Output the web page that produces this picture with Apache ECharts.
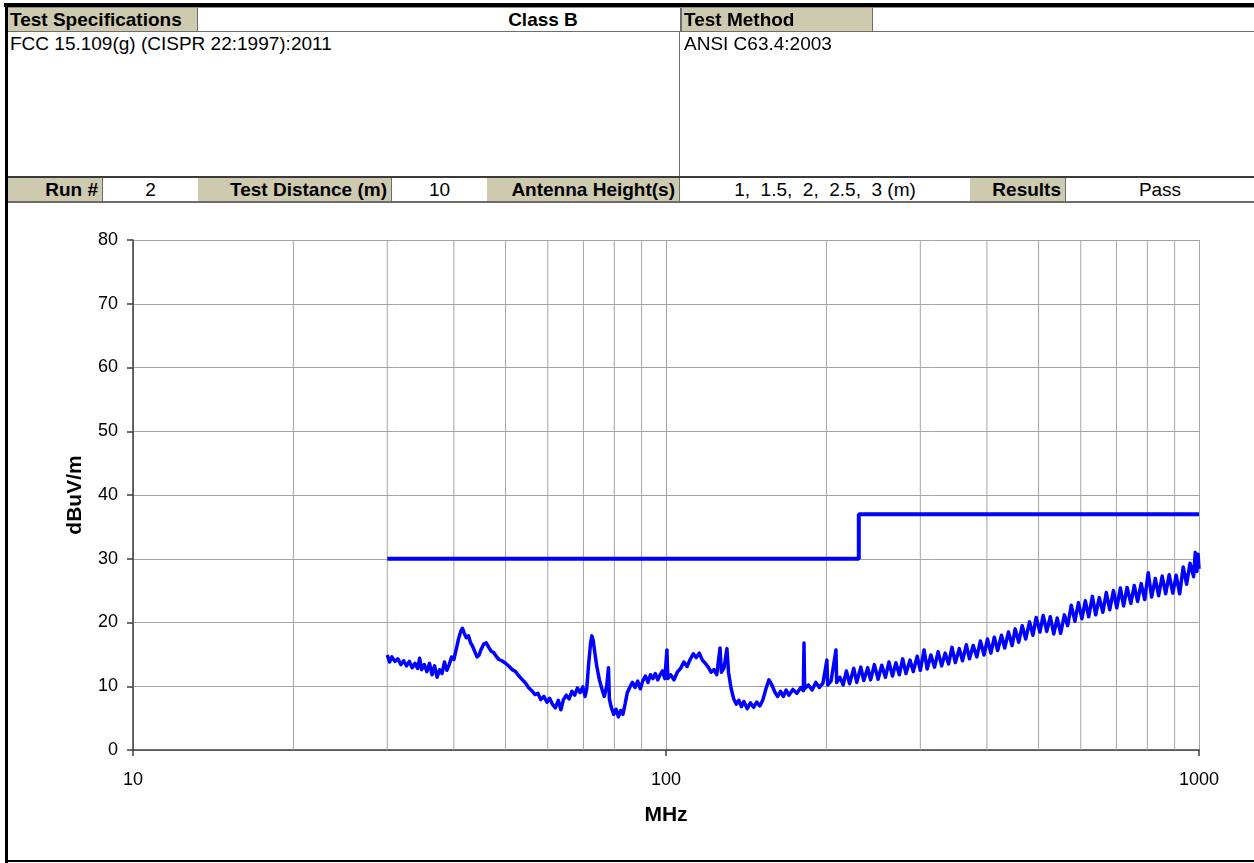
<!DOCTYPE html>
<html>
<head>
<meta charset="utf-8">
<script src="https://cdn.jsdelivr.net/npm/echarts@6/dist/echarts.min.js"></script>
<style>
  html, body { margin:0; padding:0; background:#fff; width:1254px; height:863px; overflow:hidden; }
  body { position:relative; font-family:"Liberation Sans", Arial, sans-serif; }
  #chart { position:absolute; left:0; top:0; width:1254px; height:863px; }
  .box { position:absolute; box-sizing:border-box; }
  .cell { position:absolute; box-sizing:border-box; font-size:19px; white-space:pre; color:#000; padding:0 4px; overflow:hidden; }
  .tan { background:#cdcaaf; font-weight:bold; border-right:1.5px solid #6d6d6d; }
  .white { background:#fff; }
</style>
</head>
<body>
<div id="chart"></div>
<div id="hdr"></div>
<script>
// ---- header texts ----
const specLabel = "Test Specifications";
const specClass = "Class B";
const methodLabel = "Test Method";
const specText = "FCC 15.109(g) (CISPR 22:1997):2011";
const methodText = "ANSI C63.4:2003";
const runLabels = ["Run #", "Test Distance (m)", "Antenna Height(s)", "Results"];
const runValues = ["2", "10", "1,  1.5,  2,  2.5,  3 (m)", "Pass"];

// ---- chart data ----
const xAxisName = "MHz";
const yAxisName = "dBuV/m";
const minorGridFreq = [20,30,40,50,60,70,80,90,200,300,400,500,600,700,800,900];
const limitLine = [[30,30],[230,30],[230,37],[1000,37]];
const measuredTrace = [
[30,14.9],[30.3,13.8],[30.6,14.6],[31,13.9],[31.4,14.3],[31.8,13.4],[32.2,14.0],[32.6,13.2],[33,13.9],[33.4,12.9],[33.8,13.6],[34.2,12.8],[34.5,14.4],[34.8,12.6],[35.2,13.4],[35.6,12.3],[36,13.6],[36.4,11.8],[36.8,13.2],[37.2,11.4],[37.6,12.6],[38,12.0],[38.4,13.8],[38.8,12.5],[39.2,13.4],[39.6,14.6],[40,14.2],[40.4,15.8],[40.8,17.4],[41.2,18.6],[41.5,19.1],[41.8,18.4],[42.2,17.6],[42.6,17.9],[43,16.8],[43.4,16.2],[43.8,15.4],[44.2,14.6],[44.6,14.9],[45,15.8],[45.5,16.6],[46,16.8],[46.5,16.1],[47,15.5],[47.5,15.3],[48,14.7],[48.6,14.2],[49.2,14.0],[50,13.6],[50.8,13.1],[51.5,12.6],[52.2,12.3],[53,11.6],[53.8,11.0],[54.5,10.5],[55.2,9.8],[56,9.3],[56.8,8.7],[57.5,8.9],[58.2,7.9],[59,8.4],[59.8,7.5],[60.5,8.1],[61.2,7.2],[62,6.6],[62.8,7.8],[63.5,6.3],[64.2,7.9],[65,8.6],[65.8,8.0],[66.6,9.2],[67.4,8.6],[68.2,9.7],[69,9.0],[69.8,9.9],[70.5,8.4],[71,9.6],[71.6,13.5],[72.2,16.8],[72.6,17.9],[73,17.2],[73.6,15.0],[74.2,13.0],[75,11.0],[75.8,9.6],[76.6,8.4],[77.4,10.0],[78,12.9],[78.3,8.0],[79,6.6],[79.8,5.6],[80.6,6.4],[81.4,5.2],[82.2,6.2],[83,5.6],[83.8,7.2],[84.6,9.0],[85.5,9.8],[86.5,10.6],[87.5,9.8],[88.5,10.8],[89.5,9.6],[90.5,10.9],[91.5,11.6],[92.5,10.6],[93.5,11.8],[94.5,11.2],[95.5,12.0],[96.5,11.0],[97.5,11.8],[98.5,12.4],[99.5,11.2],[100.4,15.7],[100.8,11.2],[102,11.8],[103.5,11.0],[105,12.2],[106.5,12.8],[108,13.8],[109.5,13.1],[111,14.2],[112.5,15.1],[114,14.5],[115.5,15.2],[117,14.1],[118.5,13.6],[120,13.0],[121.5,12.2],[123,12.6],[124.5,11.8],[126.3,16.0],[127,12.2],[128.5,12.9],[130.1,15.9],[131,12.2],[132.5,9.6],[134,8.0],[135.5,7.2],[137,7.8],[138.5,6.8],[140,7.6],[142,6.5],[144,7.4],[146,6.7],[148,7.5],[150,6.9],[152,7.9],[154,9.6],[156,11.0],[158,10.2],[160,9.1],[162,8.4],[164,9.2],[166,8.4],[168,9.4],[170,8.6],[173,9.5],[176,8.9],[179,9.8],[181,9.3],[181.5,16.8],[182,9.6],[185,10.2],[188,9.4],[191,10.6],[194,9.8],[197,10.5],[200.4,14.1],[201,10.2],[204,10.8],[208.4,15.7],[209,10.6],[212,11.4],
[215,10.2],[218,12.4],[221,10.4],[225,12.8],[228,10.6],[232,13.0],[235,10.9],[239,12.9],[242,11.0],[246,13.4],[250,11.1],[254,13.3],[258,11.4],[262,13.8],[266,11.6],[270,13.7],[274,11.8],[278,14.3],[282,12.0],[287,14.1],[291,12.3],[296,14.7],[300,12.5],[305,15.7],[309,12.7],[314,14.9],[319,13.0],[324,15.4],[329,13.2],[334,15.2],[339,13.5],[344,16.1],[349,13.7],[355,15.9],[360,14.0],[366,16.5],[371,14.3],[377,16.4],[383,14.6],[389,17.1],[395,14.9],[401,17.4],[407,15.2],[413,17.7],[419,15.6],[426,18.0],[432,16.0],[439,18.5],[446,16.4],[452,19.0],[459,16.9],[466,19.5],[473,17.4],[481,20.1],[488,18.0],[495,20.8],[503,18.5],[510,21.1],[518,18.6],[526,20.9],[534,18.2],[542,20.7],[550,18.3],[559,21.2],[567,19.5],[576,22.7],[585,20.2],[594,23.1],[603,20.6],[612,23.4],[621,20.9],[631,24.1],[640,21.2],[650,23.9],[660,21.6],[670,24.7],[680,22.0],[691,25.0],[701,22.3],[712,25.4],[722,22.6],[733,25.5],[745,23.0],[756,25.8],[767,23.3],[779,26.1],[791,23.6],[803,27.8],[815,24.0],[828,26.9],[840,24.2],[853,27.3],[866,24.5],[879,27.5],[893,24.6],[906,27.4],[920,24.5],[934,28.7],[948,26.0],[962,29.3],[977,27.2],[984,31.0],[991,28.0],[996,30.7],[1000,28.4]
];

// ---- header drawing ----
const hdr = document.getElementById('hdr');
function box(l, t, w, h, bg) {
  const d = document.createElement('div');
  d.className = 'box';
  d.style.cssText = `left:${l}px;top:${t}px;width:${w}px;height:${h}px;background:${bg};`;
  hdr.appendChild(d);
  return d;
}
function cell(l, t, w, h, cls, text, align) {
  const d = document.createElement('div');
  d.className = 'cell ' + cls;
  d.style.cssText = `left:${l}px;top:${t}px;width:${w}px;height:${h}px;text-align:${align};line-height:${h}px;`;
  d.textContent = text;
  hdr.appendChild(d);
  return d;
}
// row 1
cell(8, 8, 190, 23, 'tan', specLabel, 'left').style.paddingLeft = '2px';
const cb = cell(443, 8, 200, 23, 'white', specClass, 'center');
cb.style.fontWeight = 'bold';
cell(680, 8, 193, 23, 'tan', methodLabel, 'left').style.paddingLeft = '4px';
box(680, 8, 1.5, 23, '#6d6d6d');
// row 2 text
cell(8, 33, 660, 22, 'white', specText, 'left').style.paddingLeft = '2px';
cell(681, 33, 500, 22, 'white', methodText, 'left').style.paddingLeft = '3px';
box(679, 31, 1, 146, '#6d6d6d');
// row 3
const r3 = [[8,103],[198,392],[487,680],[970,1066]];
const r3v = [[103,198],[392,487],[680,970],[1066,1254]];
for (let i = 0; i < 4; i++) {
  cell(r3[i][0], 178, r3[i][1]-r3[i][0], 23, 'tan', runLabels[i], 'right');
  cell(r3v[i][0], 178, r3v[i][1]-r3v[i][0], 23, 'white', runValues[i], 'center');
}
// lines
box(8, 7, 1246, 1, '#8a8a8a');
box(8, 31, 1246, 1, '#6d6d6d');
box(8, 176, 1246, 2, '#3a3a3a');
box(8, 201, 1246, 1.5, '#6d6d6d');
// outer black border
box(4, 3, 1250, 4, '#000');
box(5, 3, 3, 860, '#000');
box(5, 860, 1249, 2, '#000');

// ---- chart ----
const chart = echarts.init(document.getElementById('chart'), null, {renderer:'canvas'});
const gridSeries = minorGridFreq.map(f => ({
  type: 'line', silent: true, symbol: 'none', z: 1,
  lineStyle: { color: '#a4a4a4', width: 1 },
  data: [[f, 0], [f, 80]], animation: false
}));
chart.setOption({
  animation: false,
  grid: { left: 133, right: 55, top: 240, bottom: 113, containLabel: false },
  xAxis: {
    type: 'log', logBase: 10, min: 10, max: 1000,
    name: xAxisName, nameLocation: 'middle', nameGap: 55,
    nameTextStyle: { fontFamily: 'Liberation Sans', fontWeight: 'bold', fontSize: 21, color: '#000' },
    axisLine: { lineStyle: { color: '#404040', width: 1.5 } },
    axisTick: { show: true, length: 6, lineStyle: { color: '#404040', width: 1.5 } },
    axisLabel: { fontFamily: 'Liberation Sans', fontSize: 18, color: '#000', margin: 21, formatter: v => String(Math.round(v)) },
    splitLine: { show: true, lineStyle: { color: '#a4a4a4', width: 1 } },
    minorTick: { show: false }, minorSplitLine: { show: false }
  },
  yAxis: {
    type: 'value', min: 0, max: 80, interval: 10,
    name: yAxisName, nameLocation: 'middle', nameGap: 47,
    nameTextStyle: { fontFamily: 'Liberation Sans', fontWeight: 'bold', fontSize: 21, color: '#000' },
    axisLine: { show: true, lineStyle: { color: '#404040', width: 1.5 } },
    axisTick: { show: true, length: 6, lineStyle: { color: '#404040', width: 1.5 } },
    axisLabel: { fontFamily: 'Liberation Sans', fontSize: 18, color: '#000', margin: 15 },
    splitLine: { show: true, lineStyle: { color: '#a4a4a4', width: 1 } }
  },
  series: gridSeries.concat([
    {
      name: 'Limit', type: 'line', symbol: 'none', z: 3,
      lineStyle: { color: '#0000ff', width: 4 },
      data: limitLine
    },
    {
      name: 'Measured', type: 'line', symbol: 'none', z: 4, sampling: null,
      lineStyle: { color: '#0000ff', width: 3.5, join: 'round' },
      data: measuredTrace
    }
  ])
});
</script>
</body>
</html>
